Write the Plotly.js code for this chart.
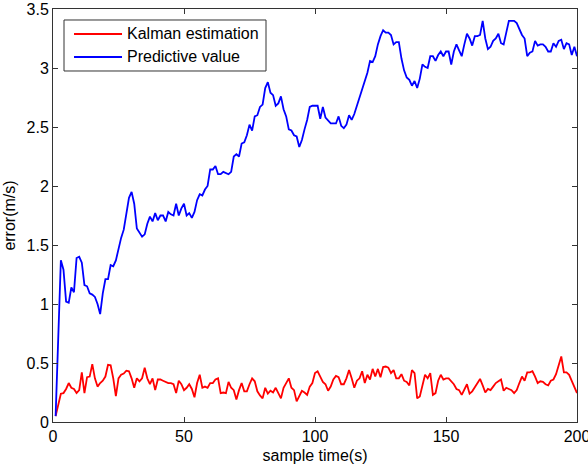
<!DOCTYPE html>
<html>
<head>
<meta charset="utf-8">
<script src="https://cdn.plot.ly/plotly-3.0.1.min.js"></script>
<style>html,body{margin:0;padding:0;background:#fff;}#chart{width:588px;height:468px;}</style>
</head>
<body>
<div id="chart"></div>
<script>
// sample times (s)
const sampleTime = Array.from({length: 200}, (_, i) => i + 1);

// Kalman estimation error (m/s)
const kalmanError = [
  0.05,0.16,0.24,0.245,0.28,0.33,0.29,0.28,0.245,0.27,
  0.42,0.245,0.38,0.385,0.49,0.37,0.30,0.33,0.35,0.385,
  0.485,0.48,0.37,0.22,0.37,0.40,0.41,0.435,0.43,0.37,
  0.29,0.37,0.345,0.37,0.46,0.37,0.32,0.37,0.27,0.36,
  0.36,0.35,0.34,0.33,0.33,0.32,0.245,0.35,0.32,0.27,
  0.29,0.32,0.28,0.21,0.33,0.40,0.29,0.30,0.29,0.33,
  0.33,0.36,0.37,0.245,0.25,0.245,0.34,0.29,0.27,0.19,
  0.27,0.33,0.26,0.26,0.32,0.37,0.345,0.26,0.225,0.20,
  0.29,0.24,0.265,0.25,0.29,0.24,0.20,0.29,0.33,0.37,
  0.29,0.27,0.175,0.225,0.265,0.25,0.23,0.30,0.33,0.415,
  0.43,0.385,0.34,0.32,0.265,0.30,0.36,0.39,0.38,0.32,
  0.32,0.37,0.44,0.37,0.29,0.35,0.37,0.43,0.33,0.40,
  0.36,0.45,0.385,0.45,0.38,0.465,0.47,0.46,0.415,0.44,
  0.37,0.37,0.405,0.35,0.34,0.31,0.44,0.415,0.20,0.217,
  0.32,0.40,0.37,0.415,0.23,0.245,0.35,0.40,0.36,0.37,
  0.37,0.345,0.32,0.28,0.27,0.23,0.275,0.32,0.24,0.26,
  0.295,0.33,0.365,0.31,0.25,0.28,0.27,0.30,0.33,0.345,
  0.36,0.265,0.29,0.28,0.27,0.245,0.27,0.33,0.385,0.35,
  0.42,0.42,0.43,0.385,0.33,0.345,0.34,0.32,0.31,0.35,
  0.36,0.405,0.485,0.555,0.42,0.42,0.40,0.345,0.30,0.245
];

// Predictive value error (m/s)
const predictiveError = [
  0.05,0.72,1.37,1.29,1.02,1.01,1.14,1.10,1.39,1.40,
  1.35,1.16,1.15,1.09,1.08,1.06,1.00,0.915,1.09,1.21,
  1.21,1.33,1.32,1.37,1.47,1.56,1.63,1.78,1.90,1.95,
  1.85,1.64,1.61,1.57,1.59,1.68,1.74,1.70,1.77,1.71,
  1.75,1.75,1.70,1.78,1.76,1.75,1.85,1.75,1.81,1.85,
  1.75,1.77,1.73,1.78,1.88,1.93,1.92,1.97,2.00,2.14,
  2.14,2.17,2.10,2.10,2.12,2.11,2.10,2.12,2.25,2.27,
  2.25,2.36,2.37,2.43,2.52,2.47,2.59,2.60,2.67,2.69,
  2.83,2.88,2.79,2.77,2.68,2.70,2.76,2.65,2.59,2.48,
  2.47,2.43,2.42,2.33,2.39,2.48,2.56,2.67,2.68,2.68,
  2.68,2.57,2.67,2.58,2.55,2.53,2.53,2.53,2.59,2.51,
  2.49,2.52,2.60,2.56,2.61,2.68,2.76,2.83,2.89,2.96,
  3.06,3.05,3.10,3.20,3.27,3.32,3.30,3.30,3.28,3.20,
  3.22,3.22,3.08,2.98,2.92,2.90,2.85,2.89,2.83,2.91,
  3.03,3.01,3.00,3.10,3.10,3.06,3.11,3.14,3.10,3.14,
  3.14,3.03,3.14,3.20,3.15,3.10,3.20,3.29,3.25,3.19,
  3.27,3.27,3.28,3.40,3.25,3.16,3.18,3.23,3.25,3.29,
  3.21,3.20,3.30,3.40,3.40,3.40,3.38,3.33,3.28,3.25,
  3.10,3.13,3.14,3.23,3.19,3.20,3.20,3.18,3.14,3.14,
  3.21,3.18,3.23,3.24,3.16,3.21,3.20,3.11,3.18,3.10
];

const seriesNames = ['Kalman estimation', 'Predictive value'];
const seriesColors = ['#ff0000', '#0000ff'];

const xTicks = [0, 50, 100, 150, 200];
const yTicks = [0, 0.5, 1, 1.5, 2, 2.5, 3, 3.5];

const FONT = 'Liberation Sans, Arial, Helvetica, sans-serif';
const FS = 16;

const traces = [
  {x: sampleTime, y: kalmanError, type: 'scatter', mode: 'lines', name: seriesNames[0],
   line: {color: seriesColors[0], width: 1.8}},
  {x: sampleTime, y: predictiveError, type: 'scatter', mode: 'lines', name: seriesNames[1],
   line: {color: seriesColors[1], width: 1.8}}
];

const axisCommon = {
  showgrid: false, zeroline: false,
  showline: true, linecolor: '#333', linewidth: 1, mirror: 'ticks',
  ticks: 'inside', ticklen: 5, tickcolor: '#333', tickwidth: 1,
  tickfont: {family: FONT, size: FS, color: '#000'},
  ticklabeloverflow: 'allow',
  fixedrange: true
};

// MATLAB-style legend box, drawn in paper coordinates
const L = {x0: 0.021, x1: 0.4065, y0: 0.8499, y1: 0.9734,
           lineX0: 0.0401, lineX1: 0.1317, textX: 0.1374, rows: [0.9395, 0.8838]};

const shapes = [
  {type: 'rect', xref: 'paper', yref: 'paper', x0: L.x0, x1: L.x1, y0: L.y0, y1: L.y1,
   line: {color: '#333', width: 1}, fillcolor: '#fff', layer: 'above'}
];
const annotations = [];
seriesNames.forEach((name, i) => {
  shapes.push({type: 'line', xref: 'paper', yref: 'paper', x0: L.lineX0, x1: L.lineX1,
    y0: L.rows[i], y1: L.rows[i], line: {color: seriesColors[i], width: 1.8}, layer: 'above'});
  annotations.push({xref: 'paper', yref: 'paper', x: L.textX, y: L.rows[i], xanchor: 'left', yanchor: 'middle',
    text: name, showarrow: false, font: {family: FONT, size: FS, color: '#000'}});
});

const layout = {
  width: 588, height: 468,
  margin: {l: 53, r: 11, t: 9, b: 46},
  paper_bgcolor: '#fff', plot_bgcolor: '#fff',
  font: {family: FONT, size: FS, color: '#000'},
  showlegend: false,
  shapes: shapes,
  annotations: annotations,
  xaxis: Object.assign({}, axisCommon, {
    range: [0, 200], tickvals: xTicks, ticktext: xTicks.map(String),
    title: {text: 'sample time(s)', font: {family: FONT, size: FS, color: '#000'}, standoff: 5}
  }),
  yaxis: Object.assign({}, axisCommon, {
    range: [0, 3.5], tickvals: yTicks, ticktext: yTicks.map(String),
    title: {text: 'error(m/s)', font: {family: FONT, size: FS, color: '#000'}, standoff: 6}
  })
};

Plotly.newPlot('chart', traces, layout, {staticPlot: true, displayModeBar: false});
</script>
</body>
</html>
